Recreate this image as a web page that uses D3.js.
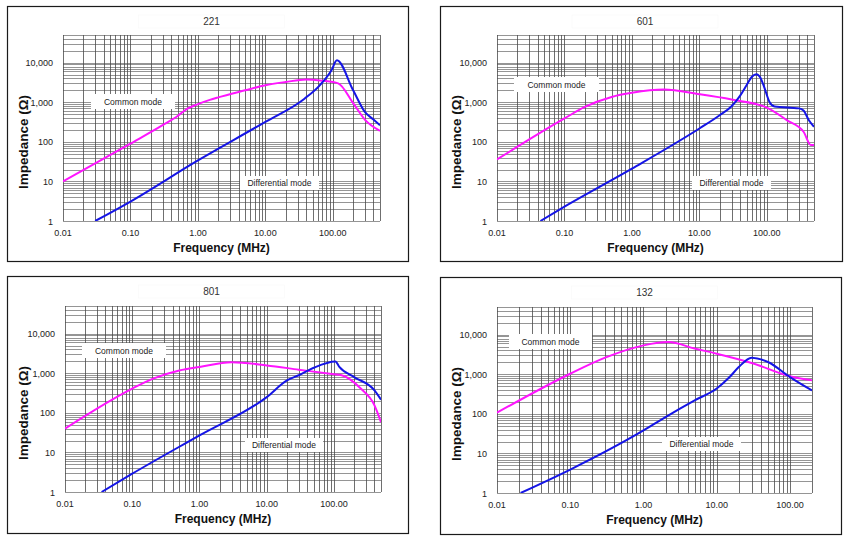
<!DOCTYPE html>
<html>
<head>
<meta charset="utf-8">
<script src="https://cdn.jsdelivr.net/npm/d3@7"></script>
<style>
  html, body { margin: 0; padding: 0; background: #fff; }
  svg { display: block; font-family: "Liberation Sans", Arial, sans-serif; }
</style>
</head>
<body>
<svg id="chart" width="848" height="541"></svg>
<script>
// ---------- DATA ----------
const panelTitles = ["221", "601", "801", "132"];
const freqMax = [500, 500, 500, 200];          // MHz, right end of each x axis
const impedanceDomain = [1, 50000];
const xTickLabels = [0.01, 0.1, 1, 10, 100];
const yTickLabels = [1, 10, 100, 1000, 10000];
const seriesNames = ["Common mode", "Differential mode"];

// 221
const f221cm = [0.01, 0.1, 0.3, 0.5, 0.7, 1, 1.5, 2, 5, 10, 20, 40, 70, 120, 200, 300, 500];
const z221cm = [10, 90, 263, 450, 690, 900, 1150, 1330, 2000, 2700, 3250, 3750, 3500, 3000, 950, 360, 190];
const f221dm = [0.03, 0.1, 1, 10, 38, 64, 95, 115, 200, 300, 400, 500];
const z221dm = [1, 3.1, 34, 320, 1230, 2680, 6340, 11500, 2000, 560, 365, 263];

// 601
const f601cm = [0.01, 0.1, 0.2, 0.5, 1, 3, 10, 30, 100, 200, 350, 450, 500];
const z601cm = [36, 390, 760, 1360, 1730, 2090, 1590, 1170, 735, 350, 180, 83, 83];
const f601dm = [0.044, 0.1, 1, 10, 20, 30, 40, 50, 60, 70, 80, 90, 110, 130, 300, 350, 420, 500];
const z601dm = [1, 2.3, 21, 217, 470, 790, 1450, 2700, 4400, 5100, 4200, 2600, 1000, 780, 700, 620, 350, 240];

// 801
const f801cm = [0.01, 0.1, 0.2, 0.5, 1, 3, 10, 30, 100, 130, 250, 400, 500];
const z801cm = [40, 410, 720, 1170, 1440, 1900, 1580, 1230, 940, 890, 410, 155, 58];
const f801dm = [0.035, 0.1, 1, 10, 20, 30, 50, 105, 120, 200, 400, 500];
const z801dm = [1, 2.9, 27, 250, 660, 890, 1380, 1990, 1450, 800, 370, 215];

// 132
const f132cm = [0.01, 0.1, 0.3, 1, 2.2, 5, 10, 30, 100, 200];
const z132cm = [107, 1030, 2620, 5360, 6500, 4460, 3310, 1930, 890, 700];
const f132dm = [0.021, 0.1, 1, 2, 5, 10, 15, 20, 30, 50, 100, 200];
const z132dm = [1, 3.9, 38, 83, 219, 435, 850, 1520, 2620, 2040, 850, 390];

const seriesData = [
  [[f221cm, z221cm], [f221dm, z221dm]],
  [[f601cm, z601cm], [f601dm, z601dm]],
  [[f801cm, z801cm], [f801dm, z801dm]],
  [[f132cm, z132cm], [f132dm, z132dm]]
];

// ---------- LAYOUT ----------
const layout = [
  { box: [7, 6, 401, 255],   plot: [63, 35, 380, 221],
    cm: [91, 94, 84, 15],   dm: [240, 176, 79, 14] },
  { box: [440, 6, 402, 255], plot: [497, 35, 814, 221],
    cm: [514, 77, 85, 15],  dm: [692, 176, 79, 14] },
  { box: [7, 276, 401, 257], plot: [65, 306, 381, 492],
    cm: [82, 343, 84, 15],  dm: [245, 438, 78, 14] },
  { box: [440, 277, 401, 257], plot: [497, 307, 812, 493],
    cm: [509, 334, 83, 15], dm: [662, 437, 79, 14] }
];
const colors = ["#ff14ff", "#1515e6"];

const svg = d3.select("#chart");
svg.append("rect").attr("width", 848).attr("height", 541).attr("fill", "#fff");

layout.forEach((L, i) => {
  const g = svg.append("g");
  const [l, t, r, b] = L.plot;
  const x = d3.scaleLog().domain([0.01, freqMax[i]]).range([l, r]);
  const y = d3.scaleLog().domain(impedanceDomain).range([b, t]);

  // outer border
  g.append("rect").attr("x", L.box[0] + 0.5).attr("y", L.box[1] + 0.5)
    .attr("width", L.box[2]).attr("height", L.box[3])
    .attr("fill", "#fff").attr("stroke", "#1a1a1a").attr("stroke-width", 1.2);

  // title
  const cx = (L.box[0] + L.box[0] + L.box[2]) / 2 + 4;
  g.append("rect").attr("x", cx - 73).attr("y", L.box[1] + 9).attr("width", 146).attr("height", 13)
    .attr("fill", "#fff").attr("stroke", "#f8f8f8").attr("stroke-width", 0.6);
  g.append("text").attr("x", cx).attr("y", L.box[1] + 19).attr("text-anchor", "middle")
    .attr("font-size", 10).attr("fill", "#333").text(panelTitles[i]);

  // grid
  const xt = x.ticks();
  const yt = y.ticks();
  g.append("g").selectAll("line").data(yt).join("line")
    .attr("x1", l).attr("x2", r)
    .attr("y1", d => Math.round(y(d)) + 0.5).attr("y2", d => Math.round(y(d)) + 0.5)
    .attr("stroke", "#7a7a7a").attr("stroke-width", 0.8);
  g.append("g").selectAll("line").data(xt).join("line")
    .attr("y1", t).attr("y2", b)
    .attr("x1", d => Math.round(x(d)) + 0.5).attr("x2", d => Math.round(x(d)) + 0.5)
    .attr("stroke", "#4a4a4a").attr("stroke-width", 0.8);

  // tick labels
  const fx = d3.format(".2f"), fy = d3.format(",");
  g.append("g").selectAll("text").data(xTickLabels).join("text")
    .attr("x", d => x(d)).attr("y", b + 15).attr("text-anchor", "middle")
    .attr("font-size", 9).attr("fill", "#222").text(d => fx(d));
  g.append("g").selectAll("text").data(yTickLabels).join("text")
    .attr("x", l - 10).attr("y", d => y(d) + 3.5).attr("text-anchor", "end")
    .attr("font-size", 9).attr("fill", "#222").text(d => fy(d));

  // axis titles
  g.append("text").attr("x", (l + r) / 2).attr("y", b + 31).attr("text-anchor", "middle")
    .attr("font-size", 12).attr("font-weight", "bold").attr("fill", "#111")
    .text("Frequency (MHz)");
  const yl = (t + b) / 2 + 14;
  const ylx = L.box[0] + 21;
  g.append("text").attr("transform", `translate(${ylx},${yl}) rotate(-90)`)
    .attr("text-anchor", "middle").attr("font-size", 13.5).attr("font-weight", "bold").attr("fill", "#111")
    .text("Impedance (Ω)");

  // mode labels
  [L.cm, L.dm].forEach((bx, k) => {
    g.append("rect").attr("x", bx[0]).attr("y", bx[1]).attr("width", bx[2]).attr("height", bx[3])
      .attr("fill", "#fff");
    g.append("text").attr("x", bx[0] + bx[2] / 2).attr("y", bx[1] + bx[3] / 2 + 3)
      .attr("text-anchor", "middle").attr("font-size", 8.5).attr("fill", "#222")
      .text(seriesNames[k]);
  });

  // curves
  const clipId = "clip" + i;
  svg.append("clipPath").attr("id", clipId).append("rect")
    .attr("x", l).attr("y", t - 2).attr("width", r - l).attr("height", b - t + 2);
  const line = d3.line().x(d => x(d[0])).y(d => y(d[1])).curve(d3.curveMonotoneX);
  seriesData[i].forEach((s, k) => {
    const pts = s[0].map((f, j) => [f, s[1][j]]);
    g.append("path").attr("d", line(pts)).attr("clip-path", `url(#${clipId})`)
      .attr("fill", "none").attr("stroke", colors[k]).attr("stroke-width", 2)
      .attr("stroke-linejoin", "round");
  });
});
</script>
</body>
</html>
